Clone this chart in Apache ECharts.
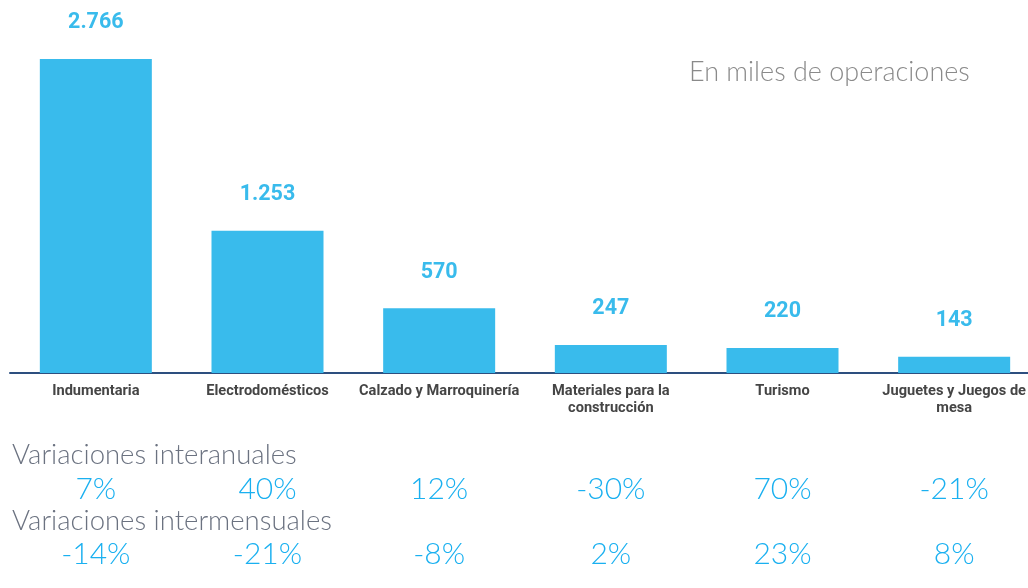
<!DOCTYPE html>
<html><head><meta charset="utf-8">
<script src="https://cdn.jsdelivr.net/npm/echarts@6/dist/echarts.min.js"></script>
<style>html,body{margin:0;padding:0;background:#fff}#c{width:1028px;height:588px}</style>
</head><body><div id="c"></div>
<script>
const categories = ["Indumentaria","Electrodomésticos","Calzado y Marroquinería","Materiales para la\nconstrucción","Turismo","Juguetes y Juegos de\nmesa"];
const operaciones = [2766,1253,570,247,220,143];
const varInteranual = ["7%","40%","12%","-30%","70%","-21%"];
const varIntermensual = ["-14%","-21%","-8%","2%","23%","8%"];

const blue = '#39bbec';
const pctStyle = {fontFamily:'Lato',fontWeight:300,fontSize:30,color:'#1ab0f0'};
const chart = echarts.init(document.getElementById('c'),null,{renderer:'canvas'});
function fmt(v){return v.toString().replace(/\B(?=(\d{3})+(?!\d))/g,'.');}
chart.setOption({
  animation:false,
  title:[
    {text:'En miles de operaciones',left:684,top:54,textStyle:{fontFamily:'Lato',fontWeight:300,fontSize:27,color:'#8a8a8a'}},
    {text:'Variaciones interanuales',left:7,top:436,textStyle:{fontFamily:'Lato',fontWeight:300,fontSize:27.5,color:'#6b7280'}},
    {text:'Variaciones intermensuales',left:7,top:502,textStyle:{fontFamily:'Lato',fontWeight:300,fontSize:27.5,color:'#6b7280'}}
  ],
  grid:{left:10,width:1030,top:59,bottom:215,containLabel:false,outerBoundsMode:'none'},
  xAxis:[
    {type:'category',data:categories,position:'bottom',
     axisLine:{lineStyle:{color:'#2d4f7f',width:2}},axisTick:{show:false},
     axisLabel:{interval:0,margin:10,fontFamily:'Roboto',fontWeight:'bold',fontSize:14.6,color:'#454545',lineHeight:17}},
    {type:'category',data:varInteranual,position:'bottom',offset:101,
     axisLine:{show:false},axisTick:{show:false},
     axisLabel:Object.assign({interval:0,margin:0},pctStyle)},
    {type:'category',data:varIntermensual,position:'bottom',offset:166,
     axisLine:{show:false},axisTick:{show:false},
     axisLabel:Object.assign({interval:0,margin:0},pctStyle)}
  ],
  yAxis:{type:'value',min:0,max:2766,show:false,splitLine:{show:false}},
  series:[{type:'bar',data:operaciones,xAxisIndex:0,barWidth:112,
    itemStyle:{color:blue},
    label:{show:true,position:'top',distance:25,fontFamily:'Roboto',fontWeight:'bold',fontSize:21.5,color:blue,formatter:p=>fmt(p.value)}}]
});
</script></body></html>
